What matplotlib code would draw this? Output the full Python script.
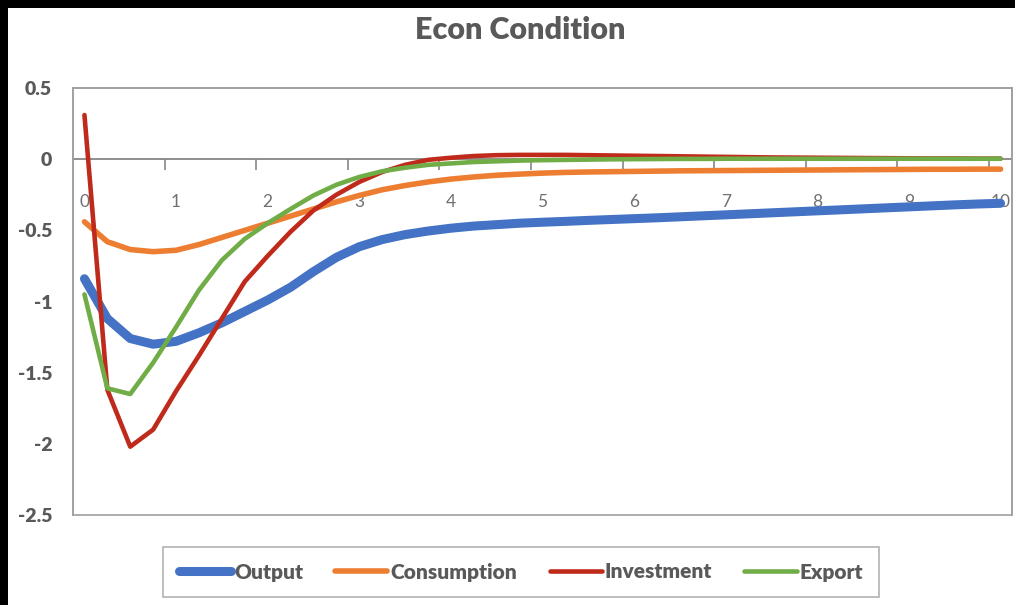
import matplotlib.pyplot as plt
from matplotlib.patches import Rectangle
import numpy as np

# quarterly horizon, 0 to 10 years
periods = np.arange(41)
year_labels = [str(y) for y in range(11)]

output = [-0.84, -1.12, -1.26, -1.30, -1.28, -1.22, -1.15, -1.07, -0.99, -0.90,
          -0.79, -0.69, -0.615, -0.565, -0.53, -0.505, -0.485, -0.47, -0.46, -0.45,
          -0.443, -0.437, -0.43, -0.424, -0.418, -0.412, -0.405, -0.398, -0.391, -0.384,
          -0.377, -0.37, -0.363, -0.356, -0.349, -0.342, -0.335, -0.328, -0.321, -0.315,
          -0.31]
consumption = [-0.44, -0.58, -0.635, -0.65, -0.64, -0.60, -0.55, -0.50, -0.45, -0.40,
               -0.35, -0.30, -0.255, -0.215, -0.185, -0.16, -0.14, -0.125, -0.113, -0.105,
               -0.098, -0.093, -0.09, -0.088, -0.086, -0.084, -0.082, -0.081, -0.08, -0.079,
               -0.078, -0.077, -0.076, -0.075, -0.074, -0.073, -0.072, -0.071, -0.071, -0.07,
               -0.07]
investment = [0.31, -1.62, -2.02, -1.90, -1.63, -1.38, -1.12, -0.86, -0.68, -0.51,
              -0.36, -0.25, -0.16, -0.09, -0.04, -0.005, 0.01, 0.022, 0.028, 0.03,
              0.03, 0.03, 0.028, 0.026, 0.024, 0.022, 0.02, 0.018, 0.016, 0.014,
              0.012, 0.011, 0.01, 0.009, 0.008, 0.007, 0.006, 0.005, 0.005, 0.004,
              0.004]
export = [-0.95, -1.61, -1.65, -1.43, -1.18, -0.92, -0.71, -0.56, -0.45, -0.35,
          -0.255, -0.18, -0.125, -0.085, -0.06, -0.04, -0.03, -0.02, -0.015, -0.01,
          -0.007, -0.005, -0.003, -0.001, 0.0, 0.001, 0.002, 0.002, 0.003, 0.003,
          0.003, 0.003, 0.003, 0.003, 0.003, 0.003, 0.003, 0.003, 0.003, 0.003,
          0.003]

series = [
    ('Output', output, '#4472C4', 6.5),
    ('Consumption', consumption, '#ED7D31', 4.0),
    ('Investment', investment, '#BF2A1B', 3.3),
    ('Export', export, '#70AD47', 3.3),
]

plt.rcParams['font.family'] = ['Lato', 'DejaVu Sans']
text_gray = '#595959'
frame_gray = '#A0A0A0'
axis_gray = '#868686'

fig = plt.figure(figsize=(10.15, 6.05), dpi=100)
ax = fig.add_axes([73 / 1015, 1 - 515 / 605, 939 / 1015, 427 / 605])

for name, vals, color, lw in series:
    ax.plot(periods, vals, color=color, lw=lw, label=name,
            solid_capstyle='round', solid_joinstyle='round', zorder=3)

ax.set_xlim(-0.5, 40.5)
ax.set_ylim(-2.5, 0.5)

# plot area frame: the bottom spine becomes the zero line, so draw the box separately
for side in ['left', 'right', 'top']:
    ax.spines[side].set_color(frame_gray)
    ax.spines[side].set_linewidth(1.2)
ax.add_patch(Rectangle((0, 0), 1, 1, transform=ax.transAxes, fill=False,
                       edgecolor=frame_gray, linewidth=1.2, clip_on=False, zorder=1))
ax.spines['bottom'].set_position(('data', 0))
ax.spines['bottom'].set_color(axis_gray)
ax.spines['bottom'].set_linewidth(1.3)
ax.spines['bottom'].set_zorder(2)

ax.set_yticks([0.5, 0, -0.5, -1, -1.5, -2, -2.5])
ax.set_yticklabels(['0.5', '0', '-0.5', '-1', '-1.5', '-2', '-2.5'],
                   fontweight='heavy', fontsize=14, color=text_gray)
ax.tick_params(axis='y', length=0, pad=15)

# category ticks between years, year labels centred on every fourth quarter
ax.set_xticks(np.arange(3.5, 41, 4))
ax.set_xticklabels([])
ax.set_xticks(periods[::4], minor=True)
ax.set_xticklabels(year_labels, minor=True, fontsize=12.5, color='#707070')
ax.tick_params(axis='x', which='major', direction='out', length=8, width=1.2, color=axis_gray)
ax.tick_params(axis='x', which='minor', length=0, pad=25)

fig.text(0.513, 1 - 30 / 605, 'Econ Condition', ha='center', va='center',
         fontsize=22, fontweight='heavy', color=text_gray)

leg = fig.legend(loc='center', bbox_to_anchor=(521 / 1015, 1 - 572 / 605), ncol=4,
                 frameon=True, fancybox=False, edgecolor=frame_gray,
                 handlelength=2.5, handletextpad=0.15, columnspacing=1.55,
                 borderpad=0.75, borderaxespad=0,
                 prop={'weight': 'heavy', 'size': 15})
leg.get_frame().set_linewidth(1.2)
for t in leg.get_texts():
    t.set_color(text_gray)

# dark edges around the sheet
fig.patches.append(Rectangle((0, 1 - 8 / 605), 1, 8 / 605, transform=fig.transFigure,
                             facecolor='black', edgecolor='none'))
fig.patches.append(Rectangle((0, 0), 8 / 1015, 1, transform=fig.transFigure,
                             facecolor='black', edgecolor='none'))

fig.savefig('out.png', dpi=100)
